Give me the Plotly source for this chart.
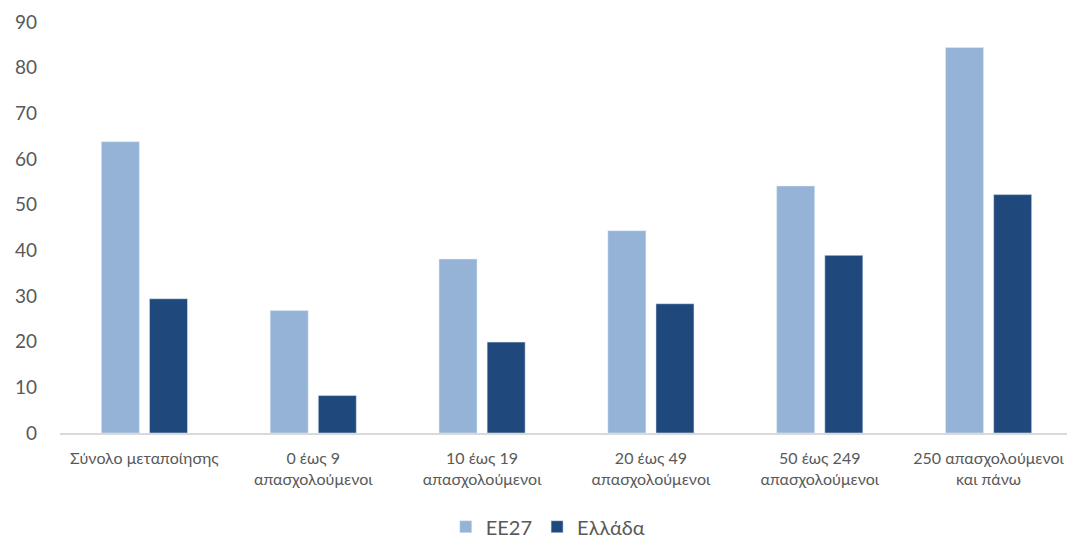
import plotly.graph_objects as go

categories = [
    "Σύνολο μεταποίησης",
    "0 έως 9<br>απασχολούμενοι",
    "10 έως 19<br>απασχολούμενοι",
    "20 έως 49<br>απασχολούμενοι",
    "50 έως 249<br>απασχολούμενοι",
    "250 απασχολούμενοι<br>και πάνω",
]
ee27 = [63.8, 26.8, 38.1, 44.3, 54.1, 84.4]
ellada = [29.4, 8.2, 19.9, 28.3, 38.9, 52.2]

fig = go.Figure()
fig.add_trace(go.Bar(name="ΕΕ27", x=categories, y=ee27, marker_color="#95B3D7"))
fig.add_trace(go.Bar(name="Ελλάδα", x=categories, y=ellada, marker_color="#1F497D"))

fig.update_layout(
    width=1067, height=532,
    barmode="group", bargap=0.43, bargroupgap=0.21,
    plot_bgcolor="white", paper_bgcolor="white",
    font=dict(family="Lato, Open Sans, sans-serif", color="#595959"),
    margin=dict(l=52, r=2, t=14, b=107, autoexpand=False),
    showlegend=True,
    legend=dict(orientation="h", x=0.482, xanchor="center", y=-0.228, yanchor="middle",
                font=dict(size=20, color="#595959"), itemwidth=30, traceorder="normal"),
    xaxis=dict(showline=True, linecolor="#D9D9D9", linewidth=1.5, tickfont=dict(size=16),
               ticks="", showgrid=False, ticklabelstandoff=10, automargin=False),
    yaxis=dict(range=[0, 90], dtick=10, showgrid=False, zeroline=False, showline=False,
               tickfont=dict(size=19), ticklabelstandoff=22, automargin=False),
)

fig.write_html("out.html")
